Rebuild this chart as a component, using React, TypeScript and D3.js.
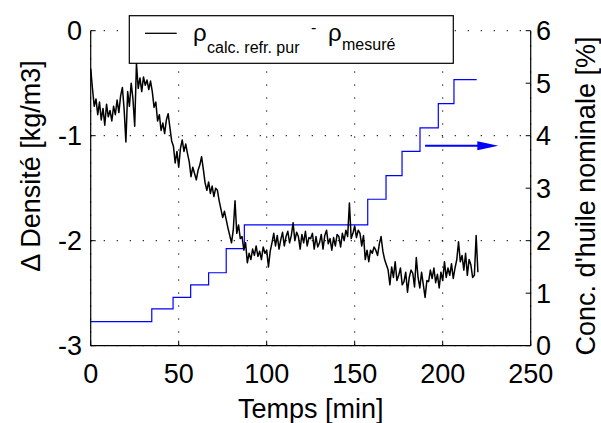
import React from "react";
import * as d3 from "d3";

// ---- data ----
const sampleStepMin = 1;
const densityDiff: number[] = [
  -0.36, -0.55, -0.72, -0.65, -0.80, -0.68, -0.85, -0.74, -0.90, -0.70,
  -0.82, -0.76, -0.86, -0.72, -0.80, -0.66, -0.78, -0.62, -0.54, -0.75,
  -1.06, -0.58, -0.72, -0.50, -0.65, -0.91, -0.31, -0.55, -0.45, -0.58,
  -0.44, -0.52, -0.47, -0.56, -0.48, -0.58, -0.73, -0.68, -0.86, -0.80,
  -0.95, -0.88, -0.98, -0.85, -0.79, -0.92, -1.05, -1.10, -1.26, -1.15,
  -1.30, -1.12, -1.04, -1.15, -1.08, -1.17, -1.25, -1.39, -1.30, -1.36,
  -1.42, -1.33, -1.28, -1.20, -1.32, -1.45, -1.52, -1.44, -1.55, -1.48,
  -1.58, -1.50, -1.52, -1.62, -1.70, -1.78, -1.72, -1.80, -1.88, -1.95,
  -2.02, -1.90, -1.62, -1.93, -1.85, -1.98, -1.96, -2.09, -2.02, -2.21,
  -2.12, -2.18, -2.08, -2.14, -2.05, -2.15, -2.10, -2.18, -2.06, -2.12,
  -2.09, -2.25, -2.10, -2.02, -1.93, -2.05, -1.95, -2.08, -1.99, -1.92,
  -2.05, -1.96, -1.91, -2.02, -1.95, -1.83, -2.00, -1.92, -1.96, -2.08,
  -1.94, -2.02, -1.91, -2.05, -1.97, -1.98, -1.93, -2.08, -1.96, -2.06,
  -2.02, -1.94, -2.08, -1.95, -1.90, -2.03, -1.98, -2.09, -1.97, -2.05,
  -1.94, -1.96, -2.06, -1.93, -2.00, -1.90, -1.96, -1.64, -1.98, -1.93,
  -1.86, -1.97, -1.90, -1.93, -2.05, -1.95, -2.18, -2.09, -2.20, -2.09,
  -2.12, -2.06, -2.09, -2.14, -2.03, -1.96, -2.10, -2.18, -2.23, -2.28,
  -2.42, -2.25, -2.35, -2.20, -2.38, -2.33, -2.26, -2.42, -2.39, -2.30,
  -2.49, -2.35, -2.28, -2.31, -2.44, -2.16, -2.35, -2.45, -2.30, -2.42,
  -2.54, -2.38, -2.39, -2.28, -2.36, -2.26, -2.40, -2.32, -2.45, -2.30,
  -2.38, -2.20, -2.35, -2.26, -2.33, -2.22, -2.36, -2.26, -2.18, -2.01,
  -2.20, -2.14, -2.28, -2.12, -2.33, -2.18, -2.23, -2.35, -2.33, -1.95,
  -2.30,
];

const concTimes: number[] = [0, 34.7, 46.8, 56.8, 67, 77, 87.3, 157.4, 167.8, 176.9, 187.1, 197.5, 206.4, 219.3];
const concLevels: number[] = [0.46, 0.70, 0.92, 1.16, 1.39, 1.85, 2.30, 2.79, 3.24, 3.70, 4.15, 4.61, 5.07];

const xTicks: number[] = [0, 50, 100, 150, 200, 250];
const yLeftTicks: number[] = [-3, -2, -1, 0];
const yRightTicks: number[] = [0, 1, 2, 3, 4, 5, 6];

const arrowStart = { t: 190, c: 3.81 };
const arrowEnd = { t: 231.6, c: 3.81 };

const xLabel = "Temps [min]";
const yLeftLabel = "Δ Densité [kg/m3]";
const yRightLabel = "Conc. d'huile nominale [%]";

// ---- layout ----
const W = 601;
const H = 423;
const L = 90.7;
const R = 530.7;
const T = 30.7;
const B = 345.7;
const FS = 27;
const FONT = "'Liberation Sans', Arial, Helvetica, sans-serif";

export default function App() {
  const x = d3.scaleLinear().domain([0, 250]).range([L, R]);
  const yL = d3.scaleLinear().domain([-3, 0]).range([B, T]);
  const yR = d3.scaleLinear().domain([0, 6]).range([B, T]);

  const densPts: [number, number][] = densityDiff.map((v, i) => [i * sampleStepMin, v]);
  const densLine = d3
    .line<[number, number]>()
    .x((d) => x(d[0]))
    .y((d) => yL(d[1]));

  const concPts: [number, number][] = concTimes.map((t, i) => [
    t,
    concLevels[Math.min(i, concLevels.length - 1)],
  ]);
  const concLine = d3
    .line<[number, number]>()
    .x((d) => x(d[0]))
    .y((d) => yR(d[1]))
    .curve(d3.curveStepAfter);

  const gridStyle = {
    stroke: "#000",
    strokeWidth: 1,
    strokeDasharray: "1.3,11.7",
    fill: "none",
  } as const;

  const ax = x(arrowEnd.t);
  const ay = yR(arrowEnd.c);

  return (
    <svg
      width={W}
      height={H}
      style={{ position: "absolute", left: 0, top: 0, background: "#fff" }}
      fontFamily={FONT}
    >
      <rect x={0} y={0} width={W} height={H} fill="#fff" />
      {/* grid */}
      {xTicks.map((t) => (
        <line key={"gx" + t} x1={x(t)} x2={x(t)} y1={B} y2={T} style={gridStyle} />
      ))}
      {yLeftTicks.map((t) => (
        <line key={"gy" + t} x1={L} x2={R} y1={yL(t)} y2={yL(t)} style={gridStyle} />
      ))}

      {/* data */}
      <path d={concLine(concPts) || ""} fill="none" stroke="#0000ff" strokeWidth={1.2} />
      <path d={densLine(densPts) || ""} fill="none" stroke="#000" strokeWidth={1.5} strokeLinejoin="round" />

      {/* arrow */}
      <line x1={x(arrowStart.t)} x2={ax - 20} y1={yR(arrowStart.c)} y2={ay} stroke="#0000ff" strokeWidth={2} />
      <polygon points={`${ax - 21},${ay - 4.5} ${ax},${ay} ${ax - 21},${ay + 4.5}`} fill="#0000ff" />

      {/* axes */}
      <line x1={L} x2={R} y1={B} y2={B} stroke="#000" strokeWidth={1.2} />
      <line x1={L} x2={L} y1={B} y2={T} stroke="#000" strokeWidth={1.2} />
      <line x1={R} x2={R} y1={B} y2={T} stroke="#000" strokeWidth={1.2} />
      {xTicks.map((t) => (
        <g key={"xt" + t}>
          <line x1={x(t)} x2={x(t)} y1={B} y2={B - 5} stroke="#000" strokeWidth={1} />
          <text x={x(t)} y={383} fontSize={FS} textAnchor="middle" fill="#000">
            {t}
          </text>
        </g>
      ))}
      {yLeftTicks.map((t) => (
        <g key={"yl" + t}>
          <line x1={L} x2={L + 5} y1={yL(t)} y2={yL(t)} stroke="#000" strokeWidth={1} />
          <text x={82} y={yL(t) + 9.7} fontSize={FS} textAnchor="end" fill="#000">
            {t}
          </text>
        </g>
      ))}
      {yRightTicks.map((t) => (
        <g key={"yr" + t}>
          <line x1={R} x2={R - 5} y1={yR(t)} y2={yR(t)} stroke="#000" strokeWidth={1} />
          <text x={536} y={yR(t) + 9.7} fontSize={FS} textAnchor="start" fill="#000">
            {t}
          </text>
        </g>
      ))}

      {/* axis titles */}
      <text x={310.7} y={418} fontSize={FS} textAnchor="middle" fill="#000">
        {xLabel}
      </text>
      <text
        transform="translate(40,166) rotate(-90)"
        fontSize={FS}
        textAnchor="middle"
        fill="#000"
      >
        {yLeftLabel}
      </text>
      <text
        transform="translate(595,196) rotate(-90)"
        fontSize={FS}
        textAnchor="middle"
        fill="#000"
      >
        {yRightLabel}
      </text>

      {/* legend */}
      <rect x={129.3} y={15.7} width={324} height={47.6} fill="#fff" stroke="#000" strokeWidth={1.2} />
      <line x1={145} x2={176.7} y1={33.3} y2={33.3} stroke="#000" strokeWidth={1.3} />
      <text fontSize={24} fill="#000">
        <tspan x={193} y={40.5}>ρ</tspan>
        <tspan x={207} y={53} fontSize={16}>calc. refr. pur</tspan>
        <tspan x={311} y={33} fontSize={16}>-</tspan>
        <tspan x={328} y={40.5}>ρ</tspan>
        <tspan x={342} y={50} fontSize={16}>mesuré</tspan>
      </text>
    </svg>
  );
}
